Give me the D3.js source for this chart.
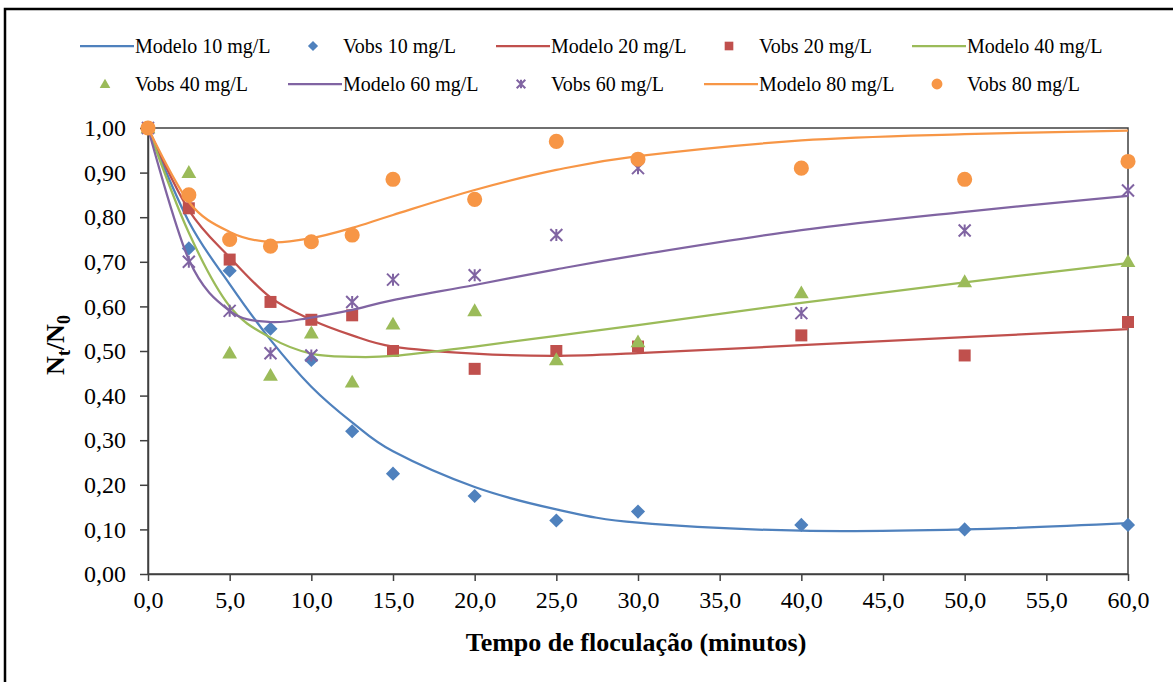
<!DOCTYPE html>
<html>
<head>
<meta charset="utf-8">
<script src="https://cdn.jsdelivr.net/npm/d3@7"></script>
<style>
  body { margin: 0; background: #fff; }
  svg { display: block; }
  .axis text { font-family: "Liberation Serif", "Times New Roman", serif; font-size: 24px; fill: #000; }
  .axis path, .axis line { stroke: #404040; stroke-width: 1.5px; }
  .legend text { font-family: "Liberation Serif", "Times New Roman", serif; font-size: 20px; fill: #000; }
</style>
</head>
<body>
<div id="chart"></div>
<script>
// time points (minutes)
var tempos = [0, 2.5, 5, 7.5, 10, 12.5, 15, 20, 25, 30, 40, 50, 60]

// observed values per dose
var vobs10 = [1.00, 0.73, 0.68, 0.55, 0.48, 0.32, 0.225, 0.175, 0.12, 0.14, 0.11, 0.10, 0.11]
var vobs20 = [1.00, 0.82, 0.705, 0.61, 0.57, 0.58, 0.50, 0.46, 0.50, 0.51, 0.535, 0.49, 0.565]
var vobs40 = [1.00, 0.90, 0.495, 0.445, 0.54, 0.43, 0.56, 0.59, 0.48, 0.52, 0.63, 0.655, 0.70]
var vobs60 = [1.00, 0.70, 0.59, 0.495, 0.49, 0.61, 0.66, 0.67, 0.76, 0.91, 0.585, 0.77, 0.86]
var vobs80 = [1.00, 0.85, 0.75, 0.735, 0.745, 0.76, 0.885, 0.84, 0.97, 0.93, 0.91, 0.885, 0.925]

// model values
var modelo10 = [1.00, 0.79, 0.65, 0.525, 0.42, 0.34, 0.275, 0.195, 0.145, 0.115, 0.097, 0.10, 0.114]
var modelo20 = [1.00, 0.816, 0.71, 0.62, 0.57, 0.535, 0.51, 0.494, 0.489, 0.495, 0.513, 0.531, 0.549]
var modelo40 = [1.00, 0.765, 0.60, 0.53, 0.494, 0.487, 0.489, 0.51, 0.534, 0.558, 0.608, 0.654, 0.697]
var modelo60 = [1.00, 0.705, 0.59, 0.565, 0.575, 0.592, 0.614, 0.648, 0.683, 0.715, 0.771, 0.812, 0.848]
var modelo80 = [1.00, 0.834, 0.767, 0.744, 0.753, 0.776, 0.805, 0.861, 0.906, 0.937, 0.972, 0.986, 0.994]

var doses = ["10", "20", "40", "60", "80"]
var cores = ["#4F81BD", "#C0504D", "#9BBB59", "#8064A2", "#F79646"]
var marcadores = ["diamond", "square", "triangle", "star", "circle"]
var xTicks = [0, 5, 10, 15, 20, 25, 30, 35, 40, 45, 50, 55, 60]
var yTicks = [0, 0.1, 0.2, 0.3, 0.4, 0.5, 0.6, 0.7, 0.8, 0.9, 1.0]

var modelos = [modelo10, modelo20, modelo40, modelo60, modelo80]
var observados = [vobs10, vobs20, vobs40, vobs60, vobs80]

var widthSvg = 1173
var heightSvg = 682
var plotLeft = 148, plotRight = 1128, plotTop = 128, plotBottom = 574

var svg = d3.select("#chart").append("svg")
  .attr("width", widthSvg)
  .attr("height", heightSvg)

// outer frame
svg.append("rect")
  .attr("x", 5).attr("y", 9)
  .attr("width", 1180).attr("height", 690)
  .attr("fill", "none").attr("stroke", "#000").attr("stroke-width", 2.5)

var x = d3.scaleLinear().domain([0, 60]).range([plotLeft, plotRight])
var y = d3.scaleLinear().domain([0, 1]).range([plotBottom, plotTop])

function virgula(n, casas) { return n.toFixed(casas).replace(".", ",") }

// plot area border (top + right)
svg.append("rect")
  .attr("x", x(0)).attr("y", y(1))
  .attr("width", x(60) - x(0)).attr("height", y(0) - y(1))
  .attr("fill", "none").attr("stroke", "#404040").attr("stroke-width", 1.5)

svg.append("g")
  .attr("class", "axis")
  .attr("transform", "translate(0," + plotBottom + ")")
  .call(d3.axisBottom(x).tickValues(xTicks).tickSize(7).tickSizeOuter(0).tickPadding(10)
    .tickFormat(function(d) { return virgula(d, 1) }))

svg.append("g")
  .attr("class", "axis")
  .attr("transform", "translate(" + plotLeft + ",0)")
  .call(d3.axisLeft(y).tickValues(yTicks).tickSize(8).tickSizeOuter(0).tickPadding(14)
    .tickFormat(function(d) { return virgula(d, 2) }))

// marker drawing helper
function marcador(g, tipo, cor, escala) {
  var s = escala || 1
  if (tipo == "diamond") {
    g.append("path").attr("d", d3.symbol(d3.symbolSquare, 100 * s * s)())
      .attr("transform", "rotate(45)").attr("fill", cor)
  } else if (tipo == "square") {
    g.append("path").attr("d", d3.symbol(d3.symbolSquare, 144 * s * s)()).attr("fill", cor)
  } else if (tipo == "triangle") {
    g.append("path").attr("d", d3.symbol(d3.symbolTriangle, 95 * s * s)())
      .attr("transform", "translate(0,1)").attr("fill", cor)
  } else if (tipo == "circle") {
    g.append("path").attr("d", d3.symbol(d3.symbolCircle, 180 * s * s)()).attr("fill", cor)
  } else if (tipo == "star") {
    var r = 6 * s
    g.append("path")
      .attr("d", "M" + -r + "," + -r + "L" + r + "," + r + "M" + -r + "," + r + "L" + r + "," + -r +
                 "M0," + -r + "L0," + r)
      .attr("stroke", cor).attr("stroke-width", 2).attr("fill", "none")
  }
}

var linha = d3.line()
  .x(function(d) { return x(d[0]) })
  .y(function(d) { return y(d[1]) })
  .curve(d3.curveCatmullRom.alpha(0))

for (var i = 0; i < doses.length; i++) {
  var pontosModelo = tempos.map(function(t, k) { return [t, modelos[i][k]] })
  svg.append("path")
    .datum(pontosModelo)
    .attr("d", linha)
    .attr("fill", "none")
    .attr("stroke", cores[i])
    .attr("stroke-width", 2.25)

  var pontosObs = tempos.map(function(t, k) { return [t, observados[i][k]] })
  var gs = svg.append("g").selectAll("g")
    .data(pontosObs)
    .enter()
    .append("g")
    .attr("transform", function(d) { return "translate(" + x(d[0]) + "," + y(d[1]) + ")" })
  gs.each(function() { marcador(d3.select(this), marcadores[i], cores[i]) })
}

// legend: 10 entries in 2 rows of 5 slots
var legenda = svg.append("g").attr("class", "legend")
var entradas = []
doses.forEach(function(d, i) {
  entradas.push({ nome: "Modelo " + d + " mg/L", tipo: "line", cor: cores[i] })
  entradas.push({ nome: "Vobs " + d + " mg/L", tipo: marcadores[i], cor: cores[i] })
})
entradas.forEach(function(e, i) {
  var col = i % 5, row = Math.floor(i / 5)
  var gx = 80 + col * 208, gy = 46 + row * 38
  var g = legenda.append("g").attr("transform", "translate(" + gx + "," + gy + ")")
  if (e.tipo == "line") {
    g.append("line").attr("x1", 0).attr("x2", 54).attr("y1", 0).attr("y2", 0)
      .attr("stroke", e.cor).attr("stroke-width", 2.25)
    g.append("text").attr("x", 55).attr("y", 7).text(e.nome)
  } else {
    var m = g.append("g").attr("transform", "translate(25,0)")
    marcador(m, e.tipo, e.cor, 0.72)
    g.append("text").attr("x", 55).attr("y", 7).text(e.nome)
  }
})

// axis titles
svg.append("text")
  .attr("x", 636)
  .attr("y", 651)
  .attr("text-anchor", "middle")
  .attr("font-family", "Liberation Serif, Times New Roman, serif")
  .attr("font-weight", "bold")
  .attr("font-size", 26)
  .text("Tempo de floculação (minutos)")

var ty = svg.append("text")
  .attr("transform", "translate(64,345) rotate(-90)")
  .attr("text-anchor", "middle")
  .attr("font-family", "Liberation Serif, Times New Roman, serif")
  .attr("font-weight", "bold")
  .attr("font-size", 26)
ty.append("tspan").text("N")
ty.append("tspan").attr("dy", 6).attr("font-size", 18).text("t")
ty.append("tspan").attr("dy", -6).text("/N")
ty.append("tspan").attr("dy", 6).attr("font-size", 18).text("0")
</script>
</body>
</html>
